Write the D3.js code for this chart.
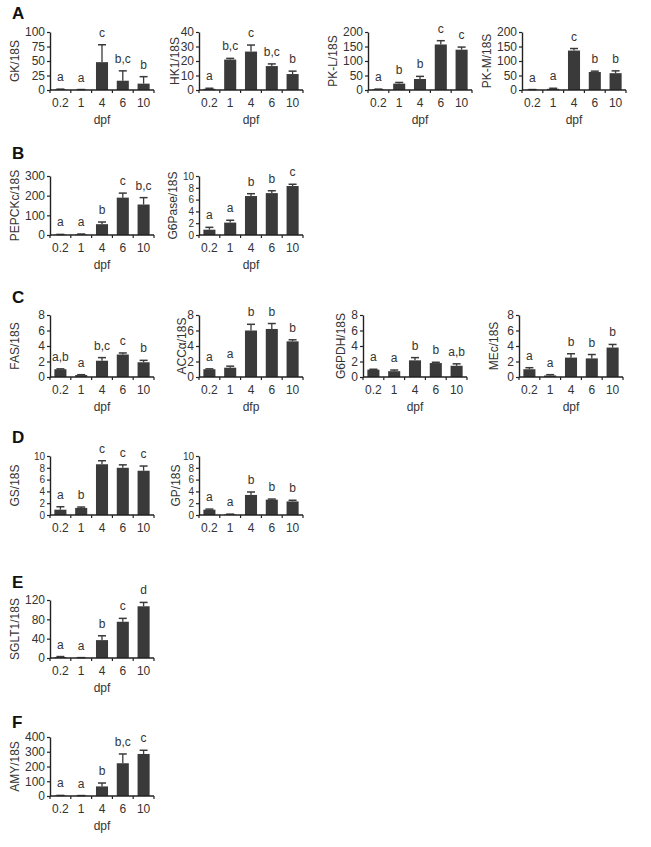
<!DOCTYPE html>
<html>
<head>
<meta charset="utf-8">
<script src="https://cdn.jsdelivr.net/npm/d3@7/dist/d3.min.js"></script>
<style>
  body { margin: 0; background: #fff; }
  svg text { font-family: "Liberation Sans", Arial, sans-serif; fill: #333; }
</style>
</head>
<body>
<svg id="fig" width="651" height="847"></svg>
<script>
// days post fertilisation
const cats = ["0.2", "1", "4", "6", "10"];

// A
const gkMean = [1, 0.5, 48, 16, 11];
const gkErr = [0.5, 0.3, 30, 17, 12];
const gkSig = ["a", "a", "c", "b,c", "b"];
const hk1Mean = [0.8, 21, 26.5, 16.5, 11];
const hk1Err = [0.4, 0.8, 4.5, 1.5, 2];
const hk1Sig = ["a", "b,c", "c", "b,c", "b"];
const pklMean = [2, 22, 38, 157, 139];
const pklErr = [1, 4, 9, 13, 9];
const pklSig = ["a", "b", "b", "c", "c"];
const pkmMean = [1, 4, 136, 62, 58];
const pkmErr = [0.5, 2, 7, 3, 8];
const pkmSig = ["a", "a", "c", "b", "b"];
// B
const pepckMean = [2, 3, 55, 190, 155];
const pepckErr = [1, 2, 11, 23, 35];
const pepckSig = ["a", "a", "b", "c", "b,c"];
const g6paseMean = [0.9, 2.1, 6.6, 7.1, 8.3];
const g6paseErr = [0.4, 0.4, 0.4, 0.4, 0.3];
const g6paseSig = ["a", "a", "b", "b", "c"];
// C
const fasMean = [1.0, 0.25, 2.1, 2.9, 1.9];
const fasErr = [0.05, 0.05, 0.4, 0.2, 0.25];
const fasSig = ["a,b", "a", "b,c", "c", "b"];
const accMean = [1.0, 1.2, 6.0, 6.2, 4.6];
const accErr = [0.05, 0.2, 0.8, 0.7, 0.2];
const accSig = ["a", "a", "b", "b", "b"];
const g6pdhMean = [0.95, 0.75, 2.15, 1.8, 1.45];
const g6pdhErr = [0.05, 0.15, 0.35, 0.1, 0.25];
const g6pdhSig = ["a", "a", "b", "b", "a,b"];
const mecMean = [1.0, 0.2, 2.5, 2.4, 3.8];
const mecErr = [0.2, 0.1, 0.5, 0.5, 0.4];
const mecSig = ["a", "a", "b", "b", "b"];
// D
const gsMean = [0.9, 1.2, 8.6, 8.0, 7.5];
const gsErr = [0.5, 0.15, 0.6, 0.5, 0.8];
const gsSig = ["a", "b", "c", "c", "c"];
const gpMean = [0.9, 0.1, 3.4, 2.6, 2.3];
const gpErr = [0.1, 0.05, 0.5, 0.1, 0.2];
const gpSig = ["a", "a", "b", "b", "b"];
// E
const sgltMean = [2, 0.5, 37, 75, 107];
const sgltErr = [1, 0.3, 9, 7, 8];
const sgltSig = ["a", "a", "b", "c", "d"];
// F
const amyMean = [3, 2, 65, 222, 285];
const amyErr = [1, 1, 23, 63, 25];
const amySig = ["a", "a", "b", "b,c", "c"];

// y tick sets
const t100 = [0, 25, 50, 75, 100];
const t40 = [0, 10, 20, 30, 40];
const t200 = [0, 50, 100, 150, 200];
const t300 = [0, 100, 200, 300];
const t10 = [0, 2, 4, 6, 8, 10];
const t8 = [0, 2, 4, 6, 8];
const t120 = [0, 40, 80, 120];
const t400 = [0, 100, 200, 300, 400];

const panels = [
  {label: "GK/18S", mean: gkMean, err: gkErr, sig: gkSig, ticks: t100, xt: "dpf"},
  {label: "HK1/18S", mean: hk1Mean, err: hk1Err, sig: hk1Sig, ticks: t40, xt: "dpf"},
  {label: "PK-L/18S", mean: pklMean, err: pklErr, sig: pklSig, ticks: t200, xt: "dpf"},
  {label: "PK-M/18S", mean: pkmMean, err: pkmErr, sig: pkmSig, ticks: t200, xt: "dpf"},
  {label: "PEPCKc/18S", mean: pepckMean, err: pepckErr, sig: pepckSig, ticks: t300, xt: "dpf"},
  {label: "G6Pase/18S", mean: g6paseMean, err: g6paseErr, sig: g6paseSig, ticks: t10, xt: "dpf"},
  {label: "FAS/18S", mean: fasMean, err: fasErr, sig: fasSig, ticks: t8, xt: "dpf"},
  {label: "ACCα/18S", mean: accMean, err: accErr, sig: accSig, ticks: t8, xt: "dfp"},
  {label: "G6PDH/18S", mean: g6pdhMean, err: g6pdhErr, sig: g6pdhSig, ticks: t8, xt: "dpf"},
  {label: "MEc/18S", mean: mecMean, err: mecErr, sig: mecSig, ticks: t8, xt: "dpf"},
  {label: "GS/18S", mean: gsMean, err: gsErr, sig: gsSig, ticks: t10, xt: ""},
  {label: "GP/18S", mean: gpMean, err: gpErr, sig: gpSig, ticks: t10, xt: ""},
  {label: "SGLT1/18S", mean: sgltMean, err: sgltErr, sig: sgltSig, ticks: t120, xt: "dpf"},
  {label: "AMY/18S", mean: amyMean, err: amyErr, sig: amySig, ticks: t400, xt: "dpf"}
];

// layout: axis origin x, baseline y, plot height, y label centre x
const layout = [
  [50, 90, 58, 15], [199, 90, 58, 175], [368, 90, 58, 333], [522, 90, 58, 487],
  [50, 235, 59, 15], [199, 235, 59, 173],
  [50, 377, 62, 15], [199, 377, 62, 182], [363, 377, 62, 341], [519, 377, 62, 494],
  [50, 515, 59, 15], [199, 515, 59, 176],
  [50, 658, 58, 15],
  [50, 796, 59, 15]
];
const sections = [["A", 5], ["B", 145], ["C", 289], ["D", 429], ["E", 574], ["F", 714]];

const W = 104;
const ink = "#222", barFill = "#3a3a3a";
const svg = d3.select("#fig");

sections.forEach(function(s){
  svg.append("text").attr("x", 12).attr("y", s[1] + 14)
    .attr("font-size", "17px").attr("font-weight", "bold")
    .style("fill", "#111").text(s[0]);
});

panels.forEach(function(p, i){
  let [x0, y0, h, lx] = layout[i];
  let g = svg.append("g").attr("transform", "translate(" + x0 + "," + (y0 - h) + ")");
  let x = d3.scaleBand().domain(cats).range([0, W]).paddingInner(0.42).paddingOuter(0.21);
  let y = d3.scaleLinear().domain([0, d3.max(p.ticks)]).range([h, 0]);

  // bars
  g.selectAll("rect.bar").data(cats).enter().append("rect")
    .attr("x", d => x(d))
    .attr("y", (d, j) => y(p.mean[j]))
    .attr("width", x.bandwidth())
    .attr("height", (d, j) => h - y(p.mean[j]))
    .attr("fill", barFill);

  // upper error bars + significance letters
  cats.forEach(function(c, j){
    let cx = x(c) + x.bandwidth() / 2;
    let top = y(p.mean[j] + p.err[j]);
    g.append("line").attr("x1", cx).attr("x2", cx)
      .attr("y1", y(p.mean[j])).attr("y2", top)
      .attr("stroke", barFill).attr("stroke-width", 1.3);
    g.append("line").attr("x1", cx - 4).attr("x2", cx + 4)
      .attr("y1", top).attr("y2", top)
      .attr("stroke", barFill).attr("stroke-width", 1.5);
    g.append("text").attr("x", cx).attr("y", top - 8)
      .attr("text-anchor", "middle").attr("font-size", "12px").text(p.sig[j]);
  });

  // y axis; shrink labels a bit on the crowded 0-10 axes so they don't collide
  let gap = h / (p.ticks.length - 1);
  let tickFont = Math.min(12, Math.floor(gap / 1.16 * 2) / 2);
  let ya = g.append("g").call(d3.axisLeft(y).tickValues(p.ticks).tickSize(3).tickSizeOuter(0).tickPadding(2));
  ya.select(".domain").attr("stroke", ink).attr("stroke-width", 1.4);
  ya.selectAll(".tick line").attr("stroke", ink).attr("stroke-width", 1.2);
  ya.selectAll(".tick text").attr("font-size", tickFont + "px").attr("font-family", null).style("fill", "#333");

  // x axis with ticks between categories
  g.append("line").attr("x1", 0).attr("x2", W).attr("y1", h).attr("y2", h)
    .attr("stroke", ink).attr("stroke-width", 1.4);
  d3.range(cats.length + 1).forEach(function(k){
    let tx = k * x.step();
    g.append("line").attr("x1", tx).attr("x2", tx).attr("y1", h).attr("y2", h + 3)
      .attr("stroke", ink).attr("stroke-width", 1.2);
  });
  g.selectAll("text.xl").data(cats).enter().append("text")
    .attr("x", d => x(d) + x.bandwidth() / 2).attr("y", h + 17)
    .attr("text-anchor", "middle").attr("font-size", "12px").text(d => d);

  if(p.xt){
    g.append("text").attr("x", W / 2).attr("y", h + 34)
      .attr("text-anchor", "middle").attr("font-size", "12px").text(p.xt);
  }

  // y label, rotated; x is the centre of the text line
  svg.append("text")
    .attr("transform", "translate(" + (lx + 4) + "," + (y0 - h / 2) + ") rotate(-90)")
    .attr("text-anchor", "middle").attr("font-size", "12px").text(p.label);
});
</script>
</body>
</html>
